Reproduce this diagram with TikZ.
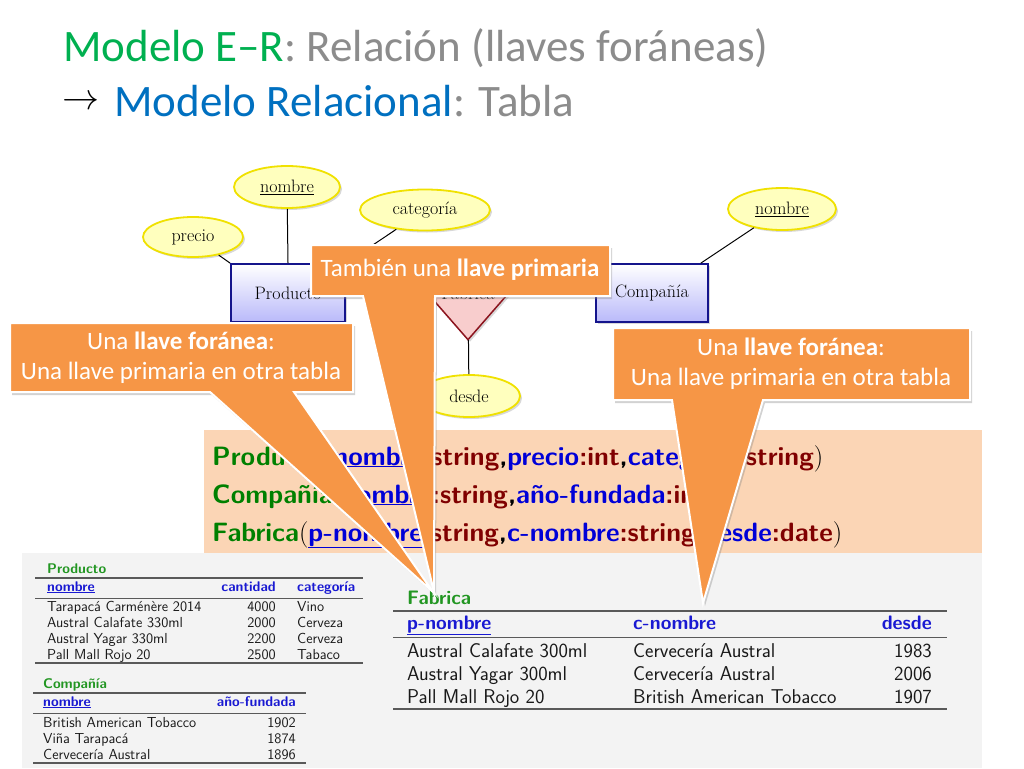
\documentclass[tikz,border=0pt]{standalone}
\usepackage{fontspec}
\usepackage{graphicx}
\newfontfamily\calib{Carlito}
\usetikzlibrary{shadows,shapes.geometric}
\definecolor{ttlgreen}{RGB}{0,176,80}
\definecolor{ttlblue}{RGB}{0,112,192}
\definecolor{ttlgray}{RGB}{140,140,140}
\definecolor{calloutor}{RGB}{246,150,70}
\definecolor{peach}{RGB}{251,213,181}
\definecolor{bggray}{RGB}{243,243,243}
\definecolor{schgreen}{RGB}{0,128,0}
\definecolor{schblue}{RGB}{0,0,215}
\definecolor{schred}{RGB}{128,0,0}
\definecolor{tblgreen}{RGB}{34,150,34}
\definecolor{tblblue}{RGB}{25,25,210}
\definecolor{entblue}{RGB}{20,20,140}
\definecolor{entfill}{RGB}{185,185,250}
\definecolor{attborder}{RGB}{240,225,0}
\definecolor{attfill}{RGB}{255,255,190}
\definecolor{relborder}{RGB}{140,20,30}
\definecolor{relfill}{RGB}{248,205,205}
\newcommand\cG[1]{\textcolor{schgreen}{#1}}
\newcommand\cB[1]{\textcolor{schblue}{#1}}
\newcommand\cR[1]{\textcolor{schred}{#1}}
\newcommand\cK[1]{{\color{schblue}\underline{#1}}}
\newcommand\pO{{\mdseries\rmfamily(}}
\newcommand\pC{{\mdseries\rmfamily)}}
\begin{document}
\begin{tikzpicture}[x=1pt,y=-1pt,
  attr/.style={ellipse, draw=attborder, line width=1.8pt, fill=attfill,
    drop shadow={opacity=0.3,shadow xshift=2pt,shadow yshift=-2pt},
    inner sep=0pt, font=\fontsize{18}{20}\selectfont},
  entity/.style={rectangle, draw=entblue, line width=1.8pt, top color=white, bottom color=entfill,
    drop shadow={opacity=0.3,shadow xshift=2pt,shadow yshift=-2pt},
    inner sep=0pt, font=\fontsize{18}{20}\selectfont},
  relship/.style={diamond, draw=relborder, line width=1.5pt, fill=relfill,
    drop shadow={opacity=0.3,shadow xshift=2pt,shadow yshift=-2pt},
    inner sep=0pt, font=\fontsize{18}{20}\selectfont},
  erline/.style={draw=black, line width=1pt},
  callout/.style={fill=calloutor, draw=white, line width=2pt, line join=miter,
    drop shadow={opacity=0.35,shadow xshift=2pt,shadow yshift=-3pt}},
  ctext/.style={text=white, font=\calib\fontsize{25}{30}\selectfont, align=center, inner sep=0pt},
  schema/.style={anchor=base west, inner sep=0pt, font=\sffamily\bfseries\fontsize{26.5}{32}\selectfont},
  tsm/.style={inner sep=0pt, text=black!90, font=\sffamily\fontsize{14.5}{16}\selectfont},
  tsmh/.style={inner sep=0pt, text=tblblue, font=\sffamily\bfseries\fontsize{14}{16}\selectfont},
  tsmt/.style={inner sep=0pt, text=tblgreen, font=\sffamily\bfseries\fontsize{14}{16}\selectfont},
  tbg/.style={inner sep=0pt, text=black!90, font=\sffamily\fontsize{20}{22}\selectfont},
  tbgh/.style={inner sep=0pt, text=tblblue, font=\sffamily\bfseries\fontsize{19.5}{22}\selectfont},
  tbgt/.style={inner sep=0pt, text=tblgreen, font=\sffamily\bfseries\fontsize{19.5}{22}\selectfont},
  rthick/.style={draw=black!65, line width=1.3pt},
  rthin/.style={draw=black!65, line width=0.8pt}]
\useasboundingbox (0,0) rectangle (1024,768);
\fill[white] (0,0) rectangle (1024,768);

% Title
\node[anchor=base west, inner sep=0pt, font=\calib\fontsize{45}{54}\selectfont] (t1) at (63,61)
  {\textcolor{ttlgreen}{Modelo E–R}\textcolor{ttlgray}{: Relación (llaves foráneas)}};
\node[anchor=base west, inner sep=0pt] (tarr) at (62,109) {\scalebox{3.7}{$\rightarrow$}};
\node[anchor=base west, inner sep=0pt, font=\calib\fontsize{45}{54}\selectfont] (t2) at (114,116)
  {\textcolor{ttlblue}{Modelo Relacional}\textcolor{ttlgray}{: Tabla}};

% ER diagram
\node[entity, minimum width=114pt, minimum height=58pt] (prod) at (288,293) {Producto};
\node[entity, minimum width=112pt, minimum height=58pt] (comp) at (652,293) {Compañía};
\node[relship, minimum width=82pt, minimum height=94pt] (fab) at (468,293) {Fabrica};
\node[attr, minimum width=106pt, minimum height=42pt] (pnom) at (287,187) {\underline{nombre}};
\node[attr, minimum width=100pt, minimum height=40pt] (prec) at (193,237) {precio};
\node[attr, minimum width=130pt, minimum height=41pt] (cat) at (425,210) {categoría};
\node[attr, minimum width=108pt, minimum height=42pt] (cnom) at (782,209) {\underline{nombre}};
\node[attr, minimum width=102pt, minimum height=42pt] (desde) at (469,396) {desde};
\draw[erline] (prec) -- (prod.north west);
\draw[erline] (pnom) -- (prod.north);
\draw[erline] (cat) -- (prod.north east);
\draw[erline] (cnom) -- ([xshift=-8pt]comp.north east);
\draw[erline] (prod) -- (fab);
\draw[erline] (fab) -- (comp);
\draw[erline] (fab) -- (desde);

% Backgrounds
\fill[peach] (204,430) rectangle (982,553);
\fill[bggray] (22,553) rectangle (982,768);

% Schema
\node[schema] (s1) at (212,465) {\cG{Producto}\pO\cK{nombre}\cR{:string},\cB{precio}\cR{:int},\cB{categoría}\cR{:string}\pC};
\node[schema] (s2) at (212,503) {\cG{Compañía}\pO\cK{nombre}\cR{:string},\cB{año-fundada}\cR{:int}\pC};
\node[schema] (s3) at (212,541) {\cG{Fabrica}\pO\cK{p-nombre}\cR{:string},\cB{c-nombre}\cR{:string},\cB{desde}\cR{:date}\pC};

% Producto table
\node[tsmt, anchor=base west] (ptt) at (47,573) {Producto};
\draw[rthick] (35,578) -- (363,578);
\node[tsmh, anchor=base west] (ph1) at (47,591) {\underline{nombre}};
\node[tsmh, anchor=base east] (ph2) at (276,591) {cantidad};
\node[tsmh, anchor=base west] (ph3) at (297,591) {categoría};
\draw[rthin] (35,598) -- (363,598);
\foreach \a/\b/\c [count=\i] in {Tarapacá Carménère 2014/4000/Vino, Austral Calafate 330ml/2000/Cerveza, Austral Yagar 330ml/2200/Cerveza, Pall Mall Rojo 20/2500/Tabaco}{
  \node[tsm, anchor=base west] (pra\i) at (47,595+16*\i) {\a};
  \node[tsm, anchor=base east] (prb\i) at (276,595+16*\i) {\b};
  \node[tsm, anchor=base west] (prc\i) at (297,595+16*\i) {\c};
}
\draw[rthick] (35,663) -- (363,663);

% Compania table
\node[tsmt, anchor=base west] (ctt) at (43,688) {Compañía};
\draw[rthick] (33,693) -- (306,693);
\node[tsmh, anchor=base west] (ch1) at (43,706) {\underline{nombre}};
\node[tsmh, anchor=base east] (ch2) at (296,706) {año-fundada};
\draw[rthin] (33,713) -- (306,713);
\foreach \a/\b [count=\i] in {British American Tobacco/1902, Viña Tarapacá/1874, Cervecería Austral/1896}{
  \node[tsm, anchor=base west] (cra\i) at (43,711+16*\i) {\a};
  \node[tsm, anchor=base east] (crb\i) at (296,711+16*\i) {\b};
}
\draw[rthick] (33,763) -- (306,763);

% Fabrica table
\node[tbgt, anchor=base west] (ftt) at (407,604) {Fabrica};
\draw[rthick] (393,611) -- (947,611);
\node[tbgh, anchor=base west] (fh1) at (407,629) {\underline{p-nombre}};
\node[tbgh, anchor=base west] (fh2) at (633,629) {c-nombre};
\node[tbgh, anchor=base east] (fh3) at (932,629) {desde};
\draw[rthin] (393,637) -- (947,637);
\foreach \a/\b/\c [count=\i] in {Austral Calafate 300ml/Cervecería Austral/1983, Austral Yagar 300ml/Cervecería Austral/2006, Pall Mall Rojo 20/British American Tobacco/1907}{
  \node[tbg, anchor=base west] (fra\i) at (407,634+23*\i) {\a};
  \node[tbg, anchor=base west] (frb\i) at (633,634+23*\i) {\b};
  \node[tbg, anchor=base east] (frc\i) at (932,634+23*\i) {\c};
}
\draw[rthick] (393,709) -- (947,709);

% Callouts
\path[callout] (311,245) -- (610,245) -- (610,296) -- (435,296) -- (434,592) -- (363,296) -- (311,296) -- cycle;
\node[ctext] (c1) at (460,270) {También una \textbf{llave primaria}};
\path[callout] (10,323) -- (353,323) -- (353,392) -- (294,392) -- (433,592) -- (210,392) -- (10,392) -- cycle;
\node[ctext] (c2) at (181,358) {Una \textbf{llave foránea}:\\Una llave primaria en otra tabla};
\path[callout] (613,328) -- (970,328) -- (970,400) -- (763,400) -- (703,603) -- (672,400) -- (613,400) -- cycle;
\node[ctext] (c3) at (791,364) {Una \textbf{llave foránea}:\\Una llave primaria en otra tabla};
\end{tikzpicture}
\end{document}
